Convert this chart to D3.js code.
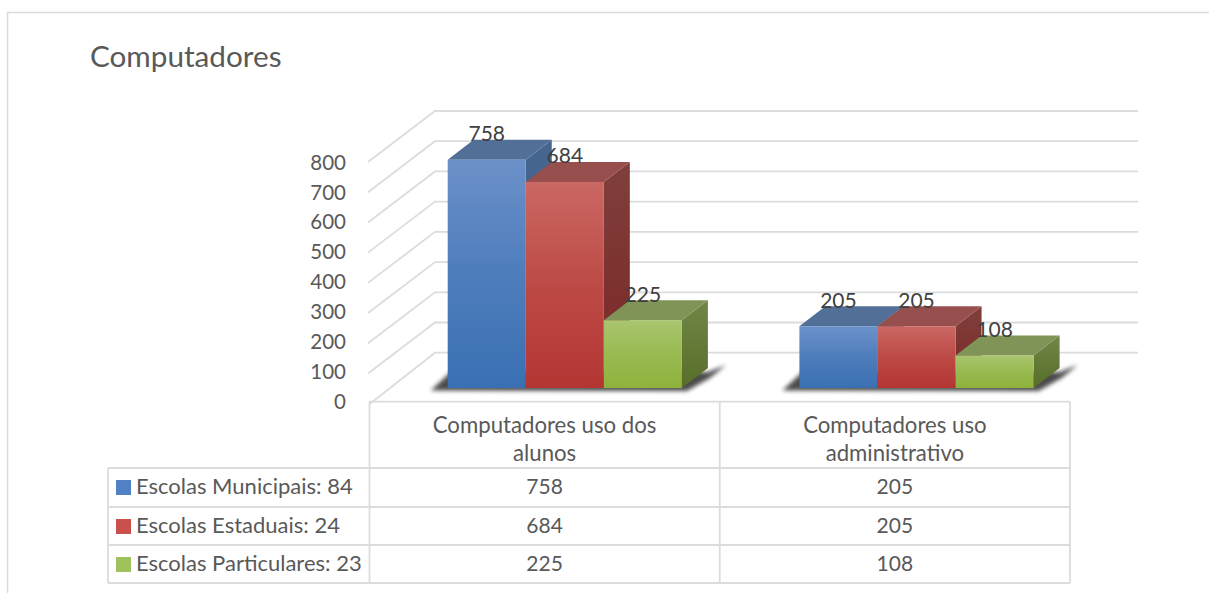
<!DOCTYPE html>
<html><head><meta charset="utf-8">
<script src="https://cdn.jsdelivr.net/npm/d3@7"></script>
<style>html,body{margin:0;padding:0;background:#fff}svg{display:block}text{font-family:Lato,"Open Sans",sans-serif;fill:#595959}</style>
</head><body><svg id="c" width="1211" height="593"></svg>
<script>
const title = "Computadores";
const categories = ["Computadores uso dos alunos", "Computadores uso administrativo"];
const categoryLines = [["Computadores uso dos", "alunos"], ["Computadores uso", "administrativo"]];
const seriesNames = ["Escolas Municipais: 84", "Escolas Estaduais: 24", "Escolas Particulares: 23"];
const municipais = [758, 205];
const estaduais = [684, 205];
const particulares = [225, 108];
const seriesValues = [municipais, estaduais, particulares];
const tickValues = [0, 100, 200, 300, 400, 500, 600, 700, 800];
const palette = [
  {a:"#6c91c9", b:"#3a70b3", top:"#526f98", s1:"#466690", s2:"#3b5f8e", key:"#4f81c4"},
  {a:"#ca6863", b:"#b43633", top:"#974f4d", s1:"#803f3c", s2:"#7a2724", key:"#c9504c"},
  {a:"#a9c570", b:"#8fb23c", top:"#7f9456", s1:"#6f8646", s2:"#586f2a", key:"#9fc25c"}
];
const svg = d3.select("#c");
const grid = "#dcdcdc";
const depth = {dx:26, dy:-20};
const wall = {dx:67, dy:-51};

const yBar = d3.scaleLinear().domain([0,800]).range([388,147]);
const yBack = d3.scaleLinear().domain([0,800]).range([352.7,111]);
const yTick = d3.scaleLinear().domain([0,800]).range([402,162.5]);
const xGroup = d3.scaleBand().domain(categories).range([447.7,1151.1]);
const xSeries = d3.scaleBand().domain(seriesNames).range([0,234.2]);
const xTable = d3.scaleBand().domain(categories).range([369.5,1070]);

const defs = svg.append("defs");
palette.forEach((p,i)=>{
  const g = defs.append("linearGradient").attr("id","f"+i).attr("x1",0).attr("y1",0).attr("x2",0).attr("y2",1);
  g.append("stop").attr("offset",0).attr("stop-color",p.a);
  g.append("stop").attr("offset",.5).attr("stop-color",d3.interpolateRgb(p.a,p.b)(.6));
  g.append("stop").attr("offset",1).attr("stop-color",p.b);
  const s = defs.append("linearGradient").attr("id","s"+i).attr("x1",0).attr("y1",0).attr("x2",0).attr("y2",1);
  s.append("stop").attr("offset",0).attr("stop-color",p.s1);
  s.append("stop").attr("offset",1).attr("stop-color",p.s2);
});
defs.append("filter").attr("id","blur").attr("x","-20%").attr("y","-50%").attr("width","140%").attr("height","200%")
  .append("feGaussianBlur").attr("stdDeviation",2);

// frame
svg.append("path").attr("d","M7.5,593V12.5H1209").attr("fill","none").attr("stroke",grid).attr("stroke-width",1.5);
svg.append("text").attr("x",90).attr("y",67).attr("font-size",29.7).text(title);

// walls
const gridG = svg.append("g").attr("fill","none").attr("stroke",grid).attr("stroke-width",1.8);
tickValues.forEach(t=>{
  const y = yBack(t);
  const xLeft = t>0 ? 368 : 370;
  gridG.append("path").attr("d",`M${xLeft},${y-wall.dy}L${368+wall.dx},${y}H1138`);
});

// bars
const barsG = svg.append("g");
categories.forEach((c,ci)=>{
  const gx = xGroup(c), w = xSeries.bandwidth(), x0 = gx, x1 = gx+w*3, yb = yBar(0);
  barsG.append("path").attr("fill","#000").attr("opacity",.7).attr("filter","url(#blur)")
    .attr("d",`M${x0-17},${yb+2.5}L${x0+3},${yb-16}H${x1+26}L${x1+44},${yb-23}L${x1+28},${yb-10}L${x1+5},${yb+3}Z`);
  seriesNames.forEach((n,si)=>{
    const v = seriesValues[si][ci], x = gx+xSeries(n), y = yBar(v);
    const g = barsG.append("g");
    g.append("path").attr("fill",`url(#s${si})`)
      .attr("d",`M${x+w},${y}l${depth.dx},${depth.dy}V${yb+depth.dy}L${x+w},${yb}Z`);
    g.append("path").attr("fill",palette[si].top)
      .attr("d",`M${x},${y}l${depth.dx},${depth.dy}h${w}l${-depth.dx},${-depth.dy}Z`);
    g.append("rect").attr("x",x).attr("y",y).attr("width",w).attr("height",yb-y).attr("fill",`url(#f${si})`);
  });
});
// data labels
categories.forEach((c,ci)=>{
  seriesNames.forEach((n,si)=>{
    const v = seriesValues[si][ci];
    svg.append("text").attr("x",xGroup(c)+xSeries(n)+xSeries.bandwidth()/2).attr("y",yBar(v)-18.5)
      .attr("text-anchor","middle").attr("font-size",21).style("fill","#404040").text(v);
  });
});

// axis labels
const axis = d3.axisLeft(yTick).tickValues(tickValues).tickSize(0).tickPadding(0);
const ax = svg.append("g").attr("transform","translate(346,0)").call(axis);
ax.select(".domain").remove();
ax.selectAll("text").attr("font-size",20.5).style("font-family","Lato,sans-serif").style("fill","#595959");

// data table
const rowY = [468, 507, 545, 583];
const tbl = svg.append("g").attr("fill","none").attr("stroke",grid).attr("stroke-width",1.8);
tbl.append("path").attr("d",`M369.5,401.7H1070`);
tbl.append("path").attr("d",`M369.5,401.7V${rowY[3]}`);
categories.forEach(c=>tbl.append("path").attr("d",`M${xTable(c)+xTable.bandwidth()},401.7V${rowY[3]}`));
rowY.forEach(y=>tbl.append("path").attr("d",`M108,${y}H1070`));
tbl.append("path").attr("d",`M108,${rowY[0]}V${rowY[3]}`);

categories.forEach((c,ci)=>{
  const cx = xTable(c)+xTable.bandwidth()/2;
  categoryLines[ci].forEach((l,li)=>{
    svg.append("text").attr("x",cx).attr("y",433+li*28).attr("text-anchor","middle").attr("font-size",22.2).text(l);
  });
  seriesNames.forEach((n,si)=>{
    svg.append("text").attr("x",cx).attr("y",rowY[si]+26).attr("text-anchor","middle").attr("font-size",21).text(seriesValues[si][ci]);
  });
});
seriesNames.forEach((n,si)=>{
  const y = rowY[si];
  svg.append("rect").attr("x",116).attr("y",y+12).attr("width",15).attr("height",15).attr("fill",palette[si].key);
  svg.append("text").attr("x",136).attr("y",y+26).attr("font-size",22).text(n);
});
</script></body></html>
